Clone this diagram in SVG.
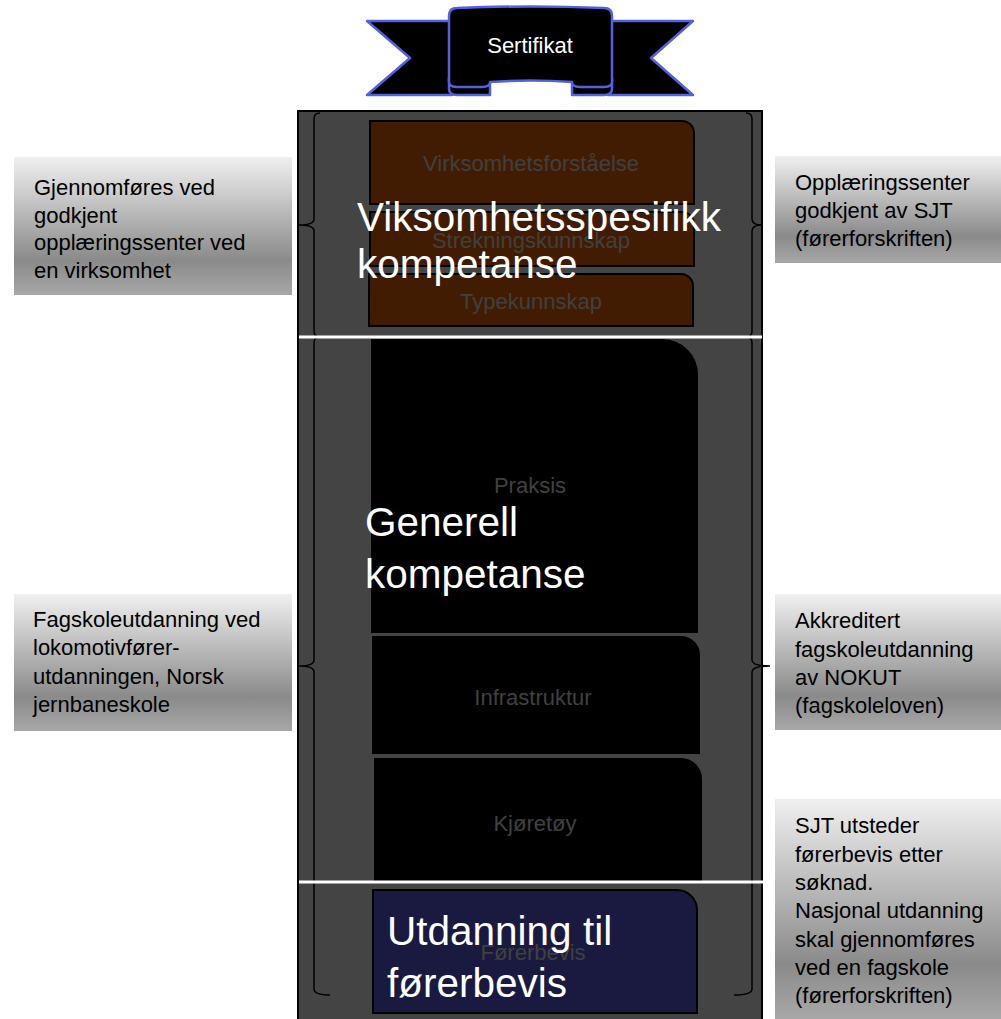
<svg xmlns="http://www.w3.org/2000/svg" width="1001" height="1019" viewBox="0 0 1001 1019">
<defs>
<linearGradient id="grey" x1="0" y1="0" x2="0" y2="1">
<stop offset="0" stop-color="#f0f0f0"/>
<stop offset="0.75" stop-color="#8a8a8a"/>
<stop offset="1" stop-color="#a8a8a8"/>
</linearGradient>
<style>
text{font-family:"Liberation Sans",Arial,sans-serif}
.note{fill:url(#grey)}
.nt{font-size:22px;fill:#000}
.lbl{font-size:22px;fill:#404040;text-anchor:middle}
.big{font-size:40.5px;fill:#fff}
.brown{fill:#421c02;stroke:#000;stroke-width:2}
.blk{fill:#000;stroke:#000;stroke-width:2}
.navy{fill:#1a1a40;stroke:#000;stroke-width:2}
.rib{fill:#000;stroke:#5560e0;stroke-width:2.5;stroke-linejoin:round}
.brace{fill:none;stroke:#000;stroke-width:1.5}
.sep{stroke:#fff;stroke-width:3}
</style>
</defs>
<rect width="1001" height="1019" fill="#fff"/>

<g id="panel">
<rect x="298" y="111" width="464" height="912" fill="#444" stroke="#000" stroke-width="2"/>
</g>

<g id="sertifikat">
<path class="rib" d="M367 21 L452 21 L452 95 L367 95 L410 58 Z"/>
<path class="rib" d="M693 21 L608 21 L608 95 L693 95 L651 58 Z"/>
<path class="rib" d="M449 78 L449 89 Q449 95 457 95 L490 95 L490 82 Z"/>
<path class="rib" d="M612 78 L612 89 Q612 95 604 95 L572 95 L572 82 Z"/>
<path class="rib" d="M457 8 Q530 5 604 8 Q612 8 612 16 L612 82 Q612 87 604 87 L580 87 Q572 87 572 82 Q530 79 490 82 Q490 87 482 87 L457 87 Q449 87 449 82 L449 16 Q449 8 457 8 Z"/>
<text x="530" y="53" font-size="22" fill="#fff" text-anchor="middle">Sertifikat</text>
</g>

<g id="virksomhetsforstaaelse">
<path class="brown" d="M370 121 L682 121 A12 12 0 0 1 694 133 L694 204 L370 204 Z"/>
<text class="lbl" x="531" y="171">Virksomhetsforståelse</text>
</g>
<g id="strekningskunnskap">
<path class="brown" d="M370 212 L682 212 A12 12 0 0 1 694 224 L694 266 L370 266 Z"/>
<text class="lbl" x="531" y="248">Strekningskunnskap</text>
</g>
<g id="typekunnskap">
<path class="brown" d="M369 274 L681 274 A12 12 0 0 1 693 286 L693 326 L369 326 Z"/>
<text class="lbl" x="531" y="309">Typekunnskap</text>
</g>

<g id="praksis">
<path class="blk" d="M372 340 L662 340 A35 35 0 0 1 697 375 L697 632 L372 632 Z"/>
<text class="lbl" x="530" y="493">Praksis</text>
</g>
<g id="infrastruktur">
<path class="blk" d="M373 637 L681 637 A18 18 0 0 1 699 655 L699 753 L373 753 Z"/>
<text class="lbl" x="533" y="705">Infrastruktur</text>
</g>
<g id="kjoretoy">
<path class="blk" d="M375 759 L681 759 A20 20 0 0 1 701 779 L701 880 L375 880 Z"/>
<text class="lbl" x="535" y="831">Kjøretøy</text>
</g>
<g id="forerbevis">
<path class="navy" d="M373 890 L677 890 A20 20 0 0 1 697 910 L697 1013 L373 1013 Z"/>
<text class="lbl" x="533" y="960">Førerbevis</text>
</g>

<g id="connectors">
<path class="brace" d="M320 113 Q314 113 314 119 L314 219 Q314 225 299 225 Q314 225 314 231 L314 331 Q314 337 320 337"/>
<path class="brace" d="M320 337 Q314 337 314 343 L314 660 Q314 666 299 666 Q314 666 314 672 L314 989 Q314 995 330 995"/>
<path class="brace" d="M746 113 Q752 113 752 119 L752 219 Q752 225 762 225 Q752 225 752 231 L752 331 Q752 337 746 337"/>
<path class="brace" d="M746 337 Q752 337 752 343 L752 660 Q752 666 770 666 Q752 666 752 672 L752 989 Q752 995 734 995"/>
<line class="sep" x1="299" y1="337" x2="762" y2="337"/>
<line class="sep" x1="299" y1="882" x2="776" y2="882"/>
</g>

<g id="viksomhetsspesifikk">
<text class="big" x="357" y="231">Viksomhetsspesifikk</text>
<text class="big" x="357" y="278">kompetanse</text>
</g>
<g id="generell">
<text class="big" x="365" y="536">Generell</text>
<text class="big" x="365" y="588">kompetanse</text>
</g>
<g id="utdanning">
<text class="big" x="387" y="945">Utdanning til</text>
<text class="big" x="387" y="997">førerbevis</text>
</g>

<g id="note-left-top">
<rect class="note" x="14" y="157" width="278" height="138"/>
<text class="nt" x="34" y="195">Gjennomføres ved</text>
<text class="nt" x="34" y="223">godkjent</text>
<text class="nt" x="34" y="250">opplæringssenter ved</text>
<text class="nt" x="34" y="278">en virksomhet</text>
</g>
<g id="note-right-top">
<rect class="note" x="775" y="156" width="226" height="107"/>
<text class="nt" x="795" y="190">Opplæringssenter</text>
<text class="nt" x="795" y="218">godkjent av SJT</text>
<text class="nt" x="795" y="246">(førerforskriften)</text>
</g>
<g id="note-left-mid">
<rect class="note" x="14" y="594" width="278" height="137"/>
<text class="nt" x="33" y="627">Fagskoleutdanning ved</text>
<text class="nt" x="33" y="655">lokomotivfører-</text>
<text class="nt" x="33" y="684">utdanningen, Norsk</text>
<text class="nt" x="33" y="712">jernbaneskole</text>
</g>
<g id="note-right-mid">
<rect class="note" x="775" y="594" width="226" height="136"/>
<text class="nt" x="795" y="628">Akkreditert</text>
<text class="nt" x="795" y="657">fagskoleutdanning</text>
<text class="nt" x="795" y="685">av NOKUT</text>
<text class="nt" x="795" y="713">(fagskoleloven)</text>
</g>
<g id="note-right-bottom">
<rect class="note" x="775" y="799" width="226" height="220"/>
<text class="nt" x="795" y="833">SJT utsteder</text>
<text class="nt" x="795" y="862">førerbevis etter</text>
<text class="nt" x="795" y="890">søknad.</text>
<text class="nt" x="795" y="918">Nasjonal utdanning</text>
<text class="nt" x="795" y="947">skal gjennomføres</text>
<text class="nt" x="795" y="975">ved en fagskole</text>
<text class="nt" x="795" y="1003">(førerforskriften)</text>
</g>
</svg>
